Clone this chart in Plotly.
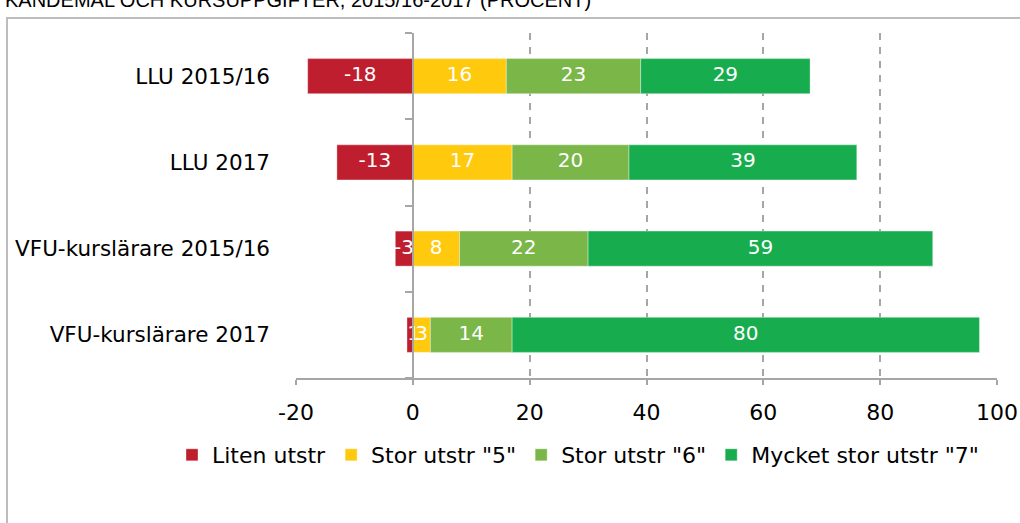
import plotly.graph_objects as go

categories = ["LLU 2015/16", "LLU 2017", "VFU-kurslärare 2015/16", "VFU-kurslärare 2017"]
series_names = ["Liten utstr", "Stor utstr \"5\"", "Stor utstr \"6\"", "Mycket stor utstr \"7\""]
liten = [-18, -13, -3, -1]
stor5 = [16, 17, 8, 3]
stor6 = [23, 20, 22, 14]
mycket = [29, 39, 59, 80]
x_ticks = [-20, 0, 20, 40, 60, 80, 100]
title_text = "KANDEMÅL OCH KURSUPPGIFTER, 2015/16-2017 (PROCENT)"

colors = ["#BE1E2D", "#FFC90E", "#7AB648", "#17AD4E"]
font_family = "DejaVu Sans, Verdana, sans-serif"
FS = 21.5

W, H = 1020, 523
ML, MT = 296, 33
PW, PH = 701, 345
MR, MB = W - ML - PW, H - MT - PH


def py(page_y):
    """page pixel y -> paper fraction"""
    return 1 - (page_y - MT) / PH


def px(page_x):
    return (page_x - ML) / PW


fig = go.Figure()
series = [liten, stor5, stor6, mycket]
for name, vals, col in zip(series_names, series, colors):
    fig.add_trace(go.Bar(
        y=categories, x=vals, name=name, orientation="h",
        marker=dict(color=col, line=dict(color="rgba(255,255,255,0.35)", width=1)),
        textposition="none", hoverinfo="skip",
    ))

# label positions computed from data (centres of segments)
for vals_idx, vals in enumerate(series):
    xs = []
    for i in range(len(categories)):
        if vals_idx == 0:
            xs.append(vals[i] / 2)
        else:
            base = sum(series[k][i] for k in range(1, vals_idx))
            xs.append(base + vals[i] / 2)
    fig.add_trace(go.Scatter(
        y=categories, x=xs, mode="text", text=[str(v) for v in vals],
        textfont=dict(color="white", size=20, family=font_family),
        showlegend=False, hoverinfo="skip",
    ))

# overlay axis for the zero line with tick marks between categories
fig.add_trace(go.Scatter(x=[None], y=[None], yaxis="y2", showlegend=False, hoverinfo="skip"))

fig.update_layout(
    width=W, height=H,
    margin=dict(l=ML, r=MR, t=MT, b=MB, autoexpand=False),
    barmode="relative", bargap=0.594,
    plot_bgcolor="white", paper_bgcolor="white",
    font=dict(family=font_family, size=FS, color="black"),
    xaxis=dict(
        range=[-20, 100], tickvals=x_ticks, ticktext=[str(t) for t in x_ticks],
        showgrid=True, gridcolor="#A6A6A6", gridwidth=1.5, griddash="7px,7px",
        zeroline=False, showline=True, linecolor="#A6A6A6", linewidth=2,
        ticks="outside", ticklen=5, tickcolor="#A6A6A6", tickwidth=2,
        ticklabelstandoff=9, automargin=False,
        tickfont=dict(size=22, family=font_family),
    ),
    yaxis=dict(
        type="category", categoryorder="array", categoryarray=categories,
        autorange="reversed", showgrid=False, zeroline=False, showline=False,
        ticks="", ticklabelstandoff=25, automargin=False,
        tickfont=dict(size=FS, family=font_family),
    ),
    yaxis2=dict(
        overlaying="y", anchor="free", position=20 / 120, side="left",
        range=[3.5, -0.5], tickvals=[-0.5, 0.5, 1.5, 2.5, 3.5],
        showticklabels=False, showgrid=False, zeroline=False,
        showline=True, linecolor="#A6A6A6", linewidth=2,
        ticks="outside", ticklen=7, tickcolor="#A6A6A6", tickwidth=2,
        layer="above traces", automargin=False,
    ),
    legend=dict(
        orientation="h", xref="paper", yref="paper",
        x=px(172), xanchor="left",
        y=py(455), yanchor="middle",
        font=dict(size=22, family=font_family), itemwidth=30, traceorder="normal",
    ),
    showlegend=True,
)

fig.add_shape(
    type="rect", xref="paper", yref="paper",
    x0=px(7), x1=px(1100), y0=py(600), y1=py(18),
    line=dict(color="#BDBDBD", width=2), fillcolor="rgba(0,0,0,0)", layer="below",
)

fig.add_annotation(
    text=title_text, xref="paper", yref="paper",
    x=px(3), xanchor="left", y=py(0), yanchor="middle",
    showarrow=False, font=dict(family="Liberation Sans, Arial, sans-serif", size=20, color="black"),
)

fig.write_html("out.html", config={"displayModeBar": False},
               post_script="document.body.style.margin='0px';")
